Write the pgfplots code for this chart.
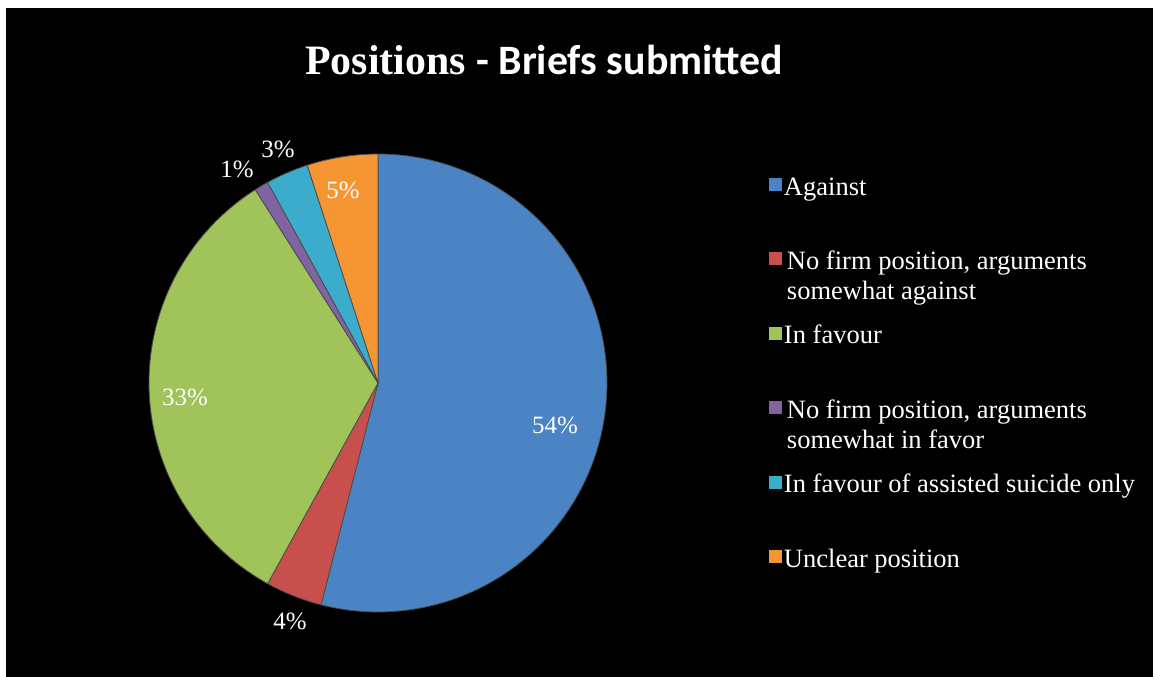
\documentclass[border=0pt]{standalone}
\usepackage{pgfplots}
\pgfplotsset{compat=1.18}
\usepackage{fontspec}
\setmainfont{Liberation Serif}
\newfontfamily\calibri{Carlito}

\definecolor{cAgainst}{RGB}{74,132,196}
\definecolor{cNoAg}{RGB}{200,80,76}
\definecolor{cFav}{RGB}{160,196,90}
\definecolor{cNoFav}{RGB}{128,100,162}
\definecolor{cAssist}{RGB}{60,172,204}
\definecolor{cUnclear}{RGB}{245,150,50}

% shares in per cent
\def\vA{54}\def\vB{4}\def\vC{33}\def\vD{1}\def\vE{3}\def\vF{5}
\pgfmathsetmacro{\aA}{90}
\pgfmathsetmacro{\aB}{\aA-3.6*\vA}
\pgfmathsetmacro{\aC}{\aB-3.6*\vB}
\pgfmathsetmacro{\aD}{\aC-3.6*\vC}
\pgfmathsetmacro{\aE}{\aD-3.6*\vD}
\pgfmathsetmacro{\aF}{\aE-3.6*\vE}
\pgfmathsetmacro{\aG}{\aF-3.6*\vF}

\newcommand{\entry}[1]{\parbox[t]{200bp}{#1}}
\pgfplotsset{
  pielegend/.style={legend image code/.code={
     \path[draw=none,fill=none] (0,10bp) rectangle (6.5bp,-27.2bp);
     \fill[##1,draw=none] (0,2bp) rectangle (6.5bp,8.5bp);}},
}

\begin{document}
\begin{tikzpicture}
\path[use as bounding box] (0,0) rectangle (576.5bp,338.5bp);
\fill[white] (0,0) rectangle (576.5bp,338.5bp);
\fill[black] (3bp,0) rectangle (576.5bp,334.5bp);
\begin{axis}[
  anchor=origin, at={(0,0)},
  x=0.5bp, y=0.5bp,
  xmin=0, xmax=1153, ymin=0, ymax=677,
  hide axis, clip=false,
  variable=\t, samples=120,
  legend style={at={(axis cs:769,502)}, anchor=north west,
    draw=none, fill=none, inner sep=0pt, outer sep=0pt,
    row sep=0pt, column sep=1bp,
    cells={anchor=base west},
    nodes={inner sep=0pt, outer sep=0pt, text=white,
      font=\fontsize{13.3}{15}\selectfont}},
]
\addplot[pielegend, fill=cAgainst, draw=black!70, line width=0.4bp, domain=\aB:\aA]
  ({378+229*cos(\t)},{294+229*sin(\t)}) -- (axis cs:378,294) -- cycle;
\addlegendentry{\entry{Against}}
\addplot[pielegend, fill=cNoAg, draw=black!70, line width=0.4bp, domain=\aC:\aB]
  ({378+229*cos(\t)},{294+229*sin(\t)}) -- (axis cs:378,294) -- cycle;
\addlegendentry{\entry{\hspace*{1.5bp}No firm position, arguments\\\hspace*{1.5bp}somewhat against}}
\addplot[pielegend, fill=cFav, draw=black!70, line width=0.4bp, domain=\aD:\aC]
  ({378+229*cos(\t)},{294+229*sin(\t)}) -- (axis cs:378,294) -- cycle;
\addlegendentry{\entry{In favour}}
\addplot[pielegend, fill=cNoFav, draw=black!70, line width=0.4bp, domain=\aE:\aD]
  ({378+229*cos(\t)},{294+229*sin(\t)}) -- (axis cs:378,294) -- cycle;
\addlegendentry{\entry{\hspace*{1.5bp}No firm position, arguments\\\hspace*{1.5bp}somewhat in favor}}
\addplot[pielegend, fill=cAssist, draw=black!70, line width=0.4bp, domain=\aF:\aE]
  ({378+229*cos(\t)},{294+229*sin(\t)}) -- (axis cs:378,294) -- cycle;
\addlegendentry{\entry{In favour of assisted suicide only}}
\addplot[pielegend, fill=cUnclear, draw=black!70, line width=0.4bp, domain=\aG:\aF]
  ({378+229*cos(\t)},{294+229*sin(\t)}) -- (axis cs:378,294) -- cycle;
\addlegendentry{\entry{Unclear position}}

\node[anchor=base west, text=white, inner sep=0pt] at (axis cs:305,603)
  {\fontsize{21}{25}\selectfont\bfseries Positions {\calibri - Briefs submitted}};

\begin{scope}[every node/.style={anchor=base, text=white, inner sep=0pt,
    font=\fontsize{12.5}{15}\selectfont}]
\node at (axis cs:555,244) {54\%};
\node at (axis cs:290,47) {4\%};
\node at (axis cs:185,272) {33\%};
\node at (axis cs:237,500) {1\%};
\node at (axis cs:278,520) {3\%};
\node at (axis cs:343,479) {5\%};
\end{scope}
\end{axis}
\end{tikzpicture}
\end{document}
